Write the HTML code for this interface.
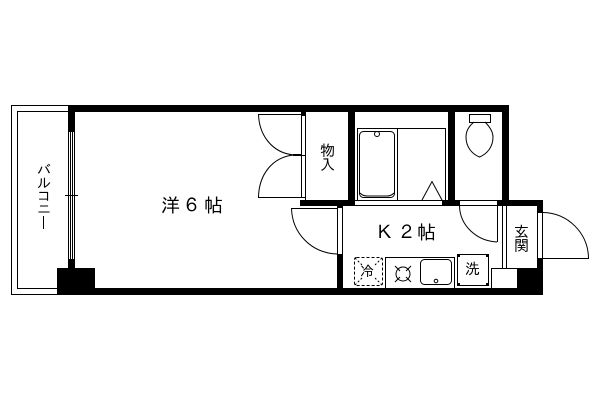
<!DOCTYPE html>
<html><head><meta charset="utf-8"><style>
html,body{margin:0;padding:0;background:#fff}
svg{display:block}
text{font-family:"IPAGothic","Liberation Sans",sans-serif;fill:#000}
</style></head><body>
<svg width="600" height="400" viewBox="0 0 600 400" xmlns="http://www.w3.org/2000/svg">
<rect width="600" height="400" fill="#fff"/>
<g fill="none" stroke="#000" stroke-width="1">
<path d="M68 105.5H11.5V294.5H57M68 111.5H17.5V288.5H57"/>
</g>
<g fill="#000" shape-rendering="crispEdges">
<rect x="68" y="105" width="441" height="7"/>
<rect x="68" y="105" width="7" height="27"/>
<rect x="68" y="259" width="7" height="10"/>
<rect x="57" y="268" width="38" height="27"/>
<rect x="57" y="288" width="486" height="7"/>
<rect x="301" y="112" width="5" height="3"/>
<rect x="300" y="200" width="243" height="6"/>
<rect x="348" y="112" width="7" height="88"/>
<rect x="448" y="112" width="7" height="88"/>
<rect x="502" y="112" width="7" height="88"/>
<rect x="337" y="206" width="6" height="82"/>
<rect x="537" y="200" width="6" height="95"/>
<rect x="517" y="268" width="26" height="27"/>
<rect x="293" y="154" width="8" height="2"/>
</g>
<g fill="#fff" shape-rendering="crispEdges">
<rect x="355" y="201" width="87" height="4"/>
<rect x="460" y="201" width="37" height="4"/>
<rect x="338" y="208" width="4" height="46"/>
<rect x="538" y="212" width="4" height="46"/>
</g>
<g fill="none" stroke="#000" stroke-width="1" shape-rendering="crispEdges">
<path d="M68.5 132V259M70.5 132V259M72.5 132V259M74.5 132V259"/>
<path d="M65 195.5H78"/>
<path d="M301.5 115V197M305.5 112V200M301 115.5H305M301 155.5H305M301 197.5H305"/>
<path d="M258 114.5H301M258 197.5H301"/>
<path d="M338 208.5H291M337.5 208V254M342.5 206V288M337 254.5H343"/>
<path d="M357.5 200V128.5H445.5V200M397.5 128V200"/>
<path d="M355 200.5H442M355 205.5H442M460 205.5H497M460 200.5H497"/>
<path d="M543 212.5H537M543 258.5H589M537.5 212V258"/>
<path d="M497.5 206V242M502.5 206V268M506.5 206V268"/>
<path d="M491.5 268.5H517M491.5 268V288"/>
<path d="M469.5 114.5H490.5V122.5H469.5Z"/>
<path d="M385.5 257.5H454.5V288M385.5 257V288"/>
<rect x="457.5" y="254.5" width="31" height="31"/>
</g>
<g fill="none" stroke="#000" stroke-width="1">
<path d="M258.5 114C259 135 272 153 294 155"/>
<path d="M258.5 197C259 175 272 157 294 155"/>
<path d="M291.5 208C292 233 311 253 337 254"/>
<path d="M543 212.5C568 213 588 233 588.5 258"/>
<path d="M459.5 206C460 226 477 241 497 242"/>
<rect x="359.5" y="131.5" width="35" height="66" rx="4"/>
<path d="M360 193C362 195 364 196 367 196H387C390 196 392 195 394 193"/>
<circle cx="377" cy="134" r="2.5"/>
<path d="M422 200L432 181.5L442 200"/>
<path d="M474 122C469 126 466 131 466 137C466 147 472 154 479.5 157C487 154 493 147 493 137C493 131 489 126 485 122"/>
<rect x="420.5" y="259.5" width="31" height="25" rx="4"/>
<circle cx="436" cy="281" r="1.8"/>
<circle cx="403" cy="274" r="7"/>
<path d="M395 266L400 271M411 266L406 271M395 282L400 277M411 282L406 277"/>
<rect x="354.5" y="257.5" width="28" height="28" rx="2" stroke-dasharray="3 2"/>
<path d="M355 258L362 265M382 258L375 265M355 285L362 278M382 285L375 278" stroke-dasharray="2 2"/>
</g>
<g fill="#000" shape-rendering="crispEdges">
<rect x="458" y="255" width="2" height="2"/><rect x="486" y="255" width="2" height="2"/>
<rect x="458" y="283" width="2" height="2"/><rect x="486" y="283" width="2" height="2"/>
</g>
<text x="161" y="212" font-size="19">洋</text>
<text x="182" y="212" font-size="19">６</text>
<text x="204" y="212" font-size="19">帖</text>
<text x="375" y="239" font-size="19">Ｋ</text>
<text x="397" y="239" font-size="19">２</text>
<text x="417" y="239" font-size="19">帖</text>
<text x="37" y="175" font-size="14">バ</text>
<text x="37" y="188" font-size="14">ル</text>
<text x="37" y="201" font-size="14">コ</text>
<text x="37" y="214" font-size="14">ニ</text>
<path d="M43.5 216V229" stroke="#000" stroke-width="1" fill="none" shape-rendering="crispEdges"/>
<text x="320" y="156" font-size="15">物</text>
<text x="320" y="170" font-size="15">入</text>
<text x="514" y="237" font-size="15">玄</text>
<text x="514" y="251" font-size="15">関</text>
<text x="360" y="276" font-size="14">冷</text>
<text x="465" y="274" font-size="15">洗</text>
</svg>
</body></html>
